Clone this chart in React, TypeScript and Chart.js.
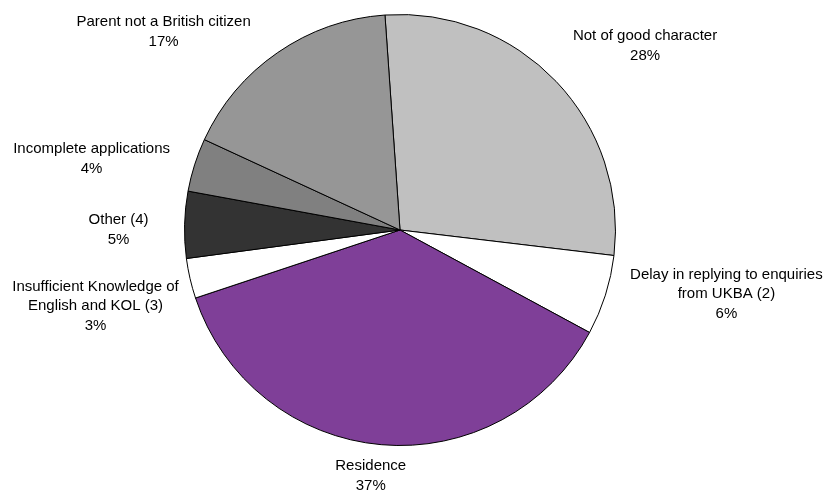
import React, { useEffect, useRef } from "react";
import { Chart, registerables } from "chart.js";

Chart.register(...registerables);

const categories: string[][] = [
  ["Not of good character"],
  ["Delay in replying to enquiries", "from UKBA (2)"],
  ["Residence"],
  ["Insufficient Knowledge of", "English and KOL (3)"],
  ["Other (4)"],
  ["Incomplete applications"],
  ["Parent not a British citizen"],
];
const values: number[] = [28, 6, 37, 3, 5, 4, 17];
const colors: string[] = ["#C0C0C0", "#FFFFFF", "#7F3F98", "#FFFFFF", "#333333", "#808080", "#969696"];
// label block centre offsets from the slice's outer edge at its mid angle
const labelOffsets: [number, number][] = [
  [89, -35.5],
  [121, -1],
  [-10.5, 31],
  [-94.5, 27.5],
  [-66, 5],
  [-103, -6],
  [-114, -21],
];

const FONT = "15px 'Liberation Sans', Arial, sans-serif";
const LINE_H = 19.5;

const labelPlugin = {
  id: "outerLabels",
  afterDatasetsDraw(chart: any) {
    const ctx = chart.ctx;
    const meta = chart.getDatasetMeta(0);
    const total = values.reduce((a, b) => a + b, 0);
    ctx.save();
    ctx.font = FONT;
    ctx.fillStyle = "#000000";
    ctx.textAlign = "center";
    ctx.textBaseline = "middle";
    meta.data.forEach((arc: any, i: number) => {
      const p = arc.getProps(["x", "y", "startAngle", "endAngle", "outerRadius"], true);
      const mid = (p.startAngle + p.endAngle) / 2;
      const ex = p.x + Math.cos(mid) * p.outerRadius;
      const ey = p.y + Math.sin(mid) * p.outerRadius;
      const cx = ex + labelOffsets[i][0];
      const cy = ey + labelOffsets[i][1];
      const lines = [...categories[i], Math.round((values[i] / total) * 100) + "%"];
      const n = lines.length;
      lines.forEach((t, j) => {
        ctx.fillText(t, cx, cy + (j - (n - 1) / 2) * LINE_H);
      });
    });
    ctx.restore();
  },
};

export default function App() {
  const ref = useRef<HTMLCanvasElement | null>(null);
  useEffect(() => {
    document.body.style.margin = "0";
    if (!ref.current) return;
    const chart = new Chart(ref.current, {
      type: "pie",
      data: {
        labels: categories.map((c) => c.join(" ")),
        datasets: [
          {
            data: values,
            backgroundColor: colors,
            borderColor: "#000000",
            borderWidth: 1,
          },
        ],
      },
      options: {
        responsive: false,
        animation: false,
        rotation: -4,
        layout: { padding: { left: 184, top: 14, right: 212, bottom: 47 } },
        plugins: {
          legend: { display: false },
          tooltip: { enabled: false },
        },
      },
      plugins: [labelPlugin],
    });
    return () => chart.destroy();
  }, []);
  return (
    <div style={{ width: 828, height: 493, background: "#fff" }}>
      <canvas ref={ref} width={828} height={493} style={{ display: "block" }} />
    </div>
  );
}
